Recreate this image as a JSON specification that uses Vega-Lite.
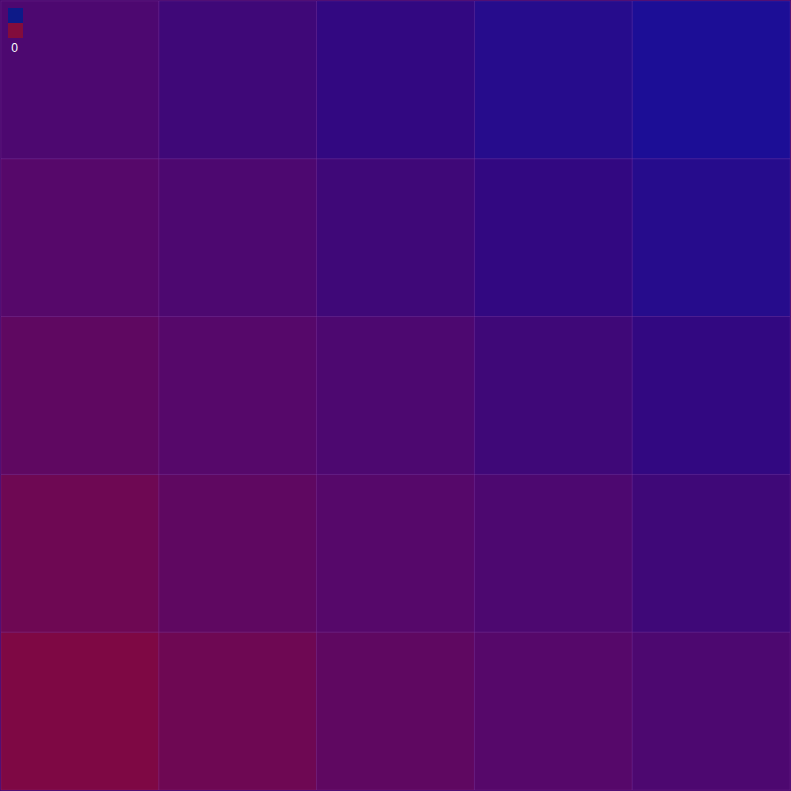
{
  "$schema": "https://vega.github.io/schema/vega-lite/v6.json",
  "width": 791,
  "height": 791,
  "autosize": {"type": "fit", "contains": "padding"},
  "padding": 0,
  "background": "#4B0A70",
  "config": {"view": {"stroke": null}},
  "data": {
    "values": [
      {"col": 1, "row": 1, "value": -4}, {"col": 2, "row": 1, "value": -3}, {"col": 3, "row": 1, "value": -2}, {"col": 4, "row": 1, "value": -1}, {"col": 5, "row": 1, "value": 0},
      {"col": 1, "row": 2, "value": -3}, {"col": 2, "row": 2, "value": -2}, {"col": 3, "row": 2, "value": -1}, {"col": 4, "row": 2, "value": 0}, {"col": 5, "row": 2, "value": 1},
      {"col": 1, "row": 3, "value": -2}, {"col": 2, "row": 3, "value": -1}, {"col": 3, "row": 3, "value": 0}, {"col": 4, "row": 3, "value": 1}, {"col": 5, "row": 3, "value": 2},
      {"col": 1, "row": 4, "value": -1}, {"col": 2, "row": 4, "value": 0}, {"col": 3, "row": 4, "value": 1}, {"col": 4, "row": 4, "value": 2}, {"col": 5, "row": 4, "value": 3},
      {"col": 1, "row": 5, "value": 0}, {"col": 2, "row": 5, "value": 1}, {"col": 3, "row": 5, "value": 2}, {"col": 4, "row": 5, "value": 3}, {"col": 5, "row": 5, "value": 4}
    ]
  },
  "encoding": {
    "x": {"field": "col", "type": "ordinal", "axis": null, "scale": {"paddingInner": 0, "paddingOuter": 0}},
    "y": {"field": "row", "type": "ordinal", "axis": null, "sort": "descending", "scale": {"paddingInner": 0, "paddingOuter": 0}}
  },
  "layer": [
    {
      "mark": {"type": "rect", "strokeWidth": 0},
      "encoding": {
        "fill": {
          "field": "value",
          "type": "quantitative",
          "scale": {
            "domain": [-4, -3, -2, -1, 0, 1, 2, 3, 4],
            "range": ["#7E0844", "#6E0853", "#5F0861", "#56086A", "#4D0870", "#3F0878", "#320881", "#260C8C", "#1C0E96"],
            "interpolate": "rgb"
          },
          "legend": null
        }
      }
    },
    {
      "mark": {"type": "rect", "fillOpacity": 0, "stroke": "#C080E0", "strokeWidth": 1, "strokeOpacity": 0.1},
      "encoding": {
        "fill": {
          "field": "value",
          "type": "quantitative",
          "scale": {"type": "threshold", "domain": [0], "range": ["#820C3C", "#0D1A88"]},
          "legend": {
            "type": "gradient",
            "orient": "none",
            "legendX": 7,
            "legendY": 7,
            "direction": "vertical",
            "gradientLength": 30,
            "gradientThickness": 15,
            "gradientStrokeWidth": 0,
            "title": null,
            "labelColor": "white",
            "labelFontSize": 12,
            "labelOffset": -7.5,
            "labelBaseline": "top",
            "encode": {"labels": {"update": {"align": {"value": "center"}, "dx": {"value": -1}, "dy": {"value": 25}}}}
          }
        }
      }
    }
  ],
  "resolve": {"scale": {"fill": "independent"}}
}
